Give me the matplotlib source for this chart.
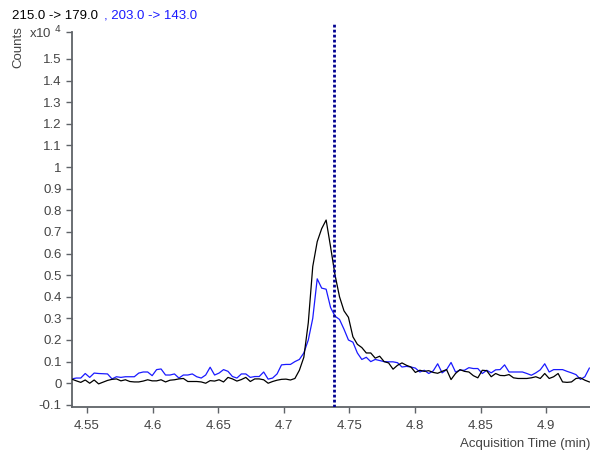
import matplotlib
matplotlib.use("Agg")
import matplotlib.pyplot as plt

# Acquisition times (min)
times = [
    4.5385, 4.5419, 4.5453, 4.5487, 4.5521, 4.5555, 4.5589, 4.5623, 4.5657, 4.5691,
    4.5725, 4.5759, 4.5793, 4.5827, 4.5861, 4.5895, 4.5929, 4.5963, 4.5997, 4.6031,
    4.6065, 4.6099, 4.6133, 4.6167, 4.6201, 4.6235, 4.6269, 4.6303, 4.6337, 4.6371,
    4.6405, 4.6439, 4.6473, 4.6507, 4.6541, 4.6575, 4.6609, 4.6643, 4.6677, 4.6711,
    4.6745, 4.6779, 4.6813, 4.6847, 4.6881, 4.6915, 4.6949, 4.6983, 4.7017, 4.7051,
    4.7085, 4.7119, 4.7153, 4.7187, 4.7221, 4.7255, 4.7289, 4.7323, 4.7357, 4.7391,
    4.7425, 4.7459, 4.7493, 4.7527, 4.7561, 4.7595, 4.7629, 4.7663, 4.7697, 4.7731,
    4.7765, 4.7799, 4.7833, 4.7867, 4.7901, 4.7935, 4.7969, 4.8003, 4.8037, 4.8071,
    4.8105, 4.8139, 4.8173, 4.8207, 4.8241, 4.8275, 4.8309, 4.8343, 4.8377, 4.8411,
    4.8445, 4.8479, 4.8513, 4.8547, 4.8581, 4.8615, 4.8649, 4.8683, 4.8717, 4.8751,
    4.8785, 4.8819, 4.8853, 4.8887, 4.8921, 4.8955, 4.8989, 4.9023, 4.9057, 4.9091,
    4.9125, 4.9159, 4.9193, 4.9227, 4.9261, 4.9295, 4.9329,
]

# Counts (x10^4) for transition 215.0 -> 179.0
counts_215 = [
    0.019, 0.011, 0.004, 0.015, 0.000, 0.015, -0.003, 0.005, 0.013, 0.018,
    0.020, 0.011, 0.016, 0.008, 0.006, 0.006, 0.010, 0.016, 0.011, 0.011,
    0.016, 0.006, 0.014, 0.016, 0.020, 0.022, 0.008, 0.008, 0.008, 0.006,
    0.000, 0.012, 0.010, 0.016, 0.006, 0.027, 0.020, 0.010, 0.017, 0.027,
    0.008, 0.020, 0.020, 0.016, 0.000, 0.008, 0.014, 0.018, 0.019, 0.015,
    0.022, 0.060, 0.120, 0.280, 0.540, 0.655, 0.715, 0.755, 0.630, 0.500,
    0.400, 0.335, 0.305, 0.215, 0.180, 0.165, 0.140, 0.140, 0.116, 0.125,
    0.100, 0.094, 0.065, 0.083, 0.094, 0.083, 0.075, 0.050, 0.060, 0.055,
    0.058, 0.050, 0.046, 0.055, 0.063, 0.017, 0.045, 0.063, 0.055, 0.052,
    0.035, 0.025, 0.060, 0.058, 0.030, 0.045, 0.036, 0.035, 0.040, 0.025,
    0.022, 0.022, 0.022, 0.025, 0.030, 0.022, 0.045, 0.022, 0.030, 0.045,
    0.006, 0.004, 0.006, 0.022, 0.025, 0.014, 0.006,
]

# Counts (x10^4) for transition 203.0 -> 143.0
counts_203 = [
    0.020, 0.024, 0.024, 0.045, 0.027, 0.047, 0.045, 0.044, 0.043, 0.020,
    0.030, 0.027, 0.030, 0.030, 0.030, 0.047, 0.052, 0.052, 0.035, 0.063,
    0.066, 0.038, 0.038, 0.043, 0.024, 0.038, 0.038, 0.043, 0.030, 0.024,
    0.038, 0.074, 0.038, 0.047, 0.063, 0.055, 0.031, 0.024, 0.043, 0.043,
    0.027, 0.031, 0.031, 0.052, 0.019, 0.024, 0.043, 0.085, 0.087, 0.087,
    0.100, 0.110, 0.140, 0.200, 0.300, 0.483, 0.440, 0.435, 0.350, 0.310,
    0.295, 0.250, 0.200, 0.190, 0.140, 0.110, 0.120, 0.100, 0.110, 0.105,
    0.100, 0.099, 0.099, 0.095, 0.075, 0.078, 0.075, 0.070, 0.052, 0.060,
    0.045, 0.057, 0.090, 0.048, 0.063, 0.096, 0.052, 0.060, 0.060, 0.072,
    0.068, 0.068, 0.045, 0.060, 0.048, 0.062, 0.063, 0.085, 0.052, 0.052,
    0.052, 0.052, 0.045, 0.037, 0.048, 0.062, 0.090, 0.052, 0.063, 0.063,
    0.063, 0.055, 0.048, 0.040, 0.018, 0.030, 0.070,
]

marker_time = 4.7383
x_ticks = [4.55, 4.6, 4.65, 4.7, 4.75, 4.8, 4.85, 4.9]
x_tick_labels = ["4.55", "4.6", "4.65", "4.7", "4.75", "4.8", "4.85", "4.9"]
y_ticks = [-0.1, 0, 0.1, 0.2, 0.3, 0.4, 0.5, 0.6, 0.7, 0.8, 0.9, 1.0,
           1.1, 1.2, 1.3, 1.4, 1.5]
y_tick_labels = ["-0.1", "0", "0.1", "0.2", "0.3", "0.4", "0.5", "0.6", "0.7",
                 "0.8", "0.9", "1", "1.1", "1.2", "1.3", "1.4", "1.5"]
y_top_tick = 1.625

plt.rcParams["font.family"] = ["Liberation Sans", "DejaVu Sans"]
axis_grey = "#5f6368"

fig = plt.figure(figsize=(5.9, 4.54), dpi=100)
ax = fig.add_axes([0.122, 0.1035, 0.878, 0.848])

ax.plot(times, counts_203, color="#1a1aff", lw=0.9, zorder=2)
ax.plot(times, counts_215, color="black", lw=0.9, zorder=3)
ax.axvline(marker_time, color="#000090", lw=2.0, ls=(0, (1, 0.8)), zorder=4)

ax.set_xlim(4.5386, 4.9334)
ax.set_ylim(-0.11, 1.671)

ax.set_xticks(x_ticks)
ax.set_xticklabels(x_tick_labels)
ax.set_yticks(y_ticks + [y_top_tick])
ax.set_yticklabels(y_tick_labels + [r"x10 $^{4}$"])

for side in ("top", "right"):
    ax.spines[side].set_visible(False)
for side in ("left", "bottom"):
    ax.spines[side].set_color(axis_grey)
    ax.spines[side].set_linewidth(1.3)
ax.spines["left"].set_bounds(-0.11, y_top_tick)

ax.tick_params(axis="both", direction="out", length=4, width=1.0,
               color=axis_grey, labelcolor="#444444", labelsize=9.5)
ax.tick_params(axis="x", pad=5)

fig.text(12 / 590, 1 - 16 / 454, "215.0 -> 179.0", color="black",
         fontsize=9.5, va="center", ha="left")
fig.text(104 / 590, 1 - 16 / 454, ", 203.0 -> 143.0", color="#1a1aff",
         fontsize=9.5, va="center", ha="left")
fig.text(18 / 590, 1 - 47 / 454, "Counts", rotation=90, color="#444444",
         fontsize=9.5, va="center", ha="center")
fig.text(1.0, 1 - 444 / 454, "Acquisition Time (min)", color="#444444",
         fontsize=9.5, va="center", ha="right")

fig.savefig("out.png", dpi=100)
